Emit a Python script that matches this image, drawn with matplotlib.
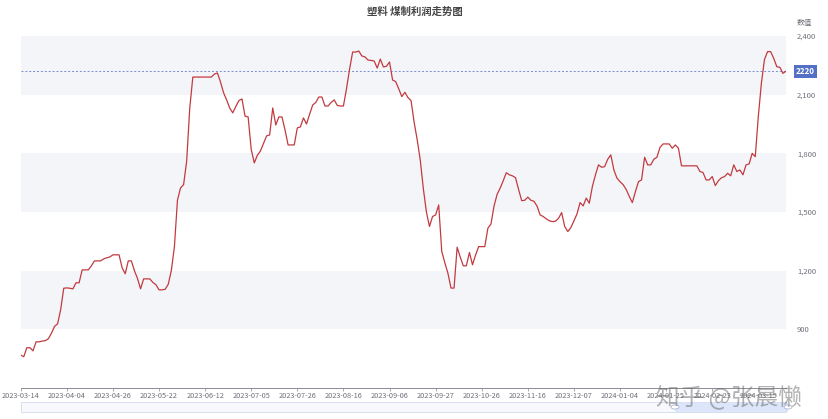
import matplotlib
matplotlib.use("Agg")
import matplotlib.pyplot as plt
from matplotlib.patches import Rectangle, Circle

plt.rcParams['font.family'] = ['Noto Sans CJK SC', 'DejaVu Sans']

title = "塑料 煤制利润走势图"
y_name = "数值"
tick_labels = ["2023-03-14", "2023-04-04", "2023-04-26", "2023-05-22", "2023-06-12",
               "2023-07-05", "2023-07-26", "2023-08-16", "2023-09-06", "2023-09-27",
               "2023-10-26", "2023-11-16", "2023-12-07", "2024-01-04", "2024-01-25",
               "2024-02-23", "2024-03-15"]
tick_step = 15
y_ticks = [900, 1200, 1500, 1800, 2100, 2400]
mark_value = 2220

values = [
    768, 760, 806, 806, 790, 836, 836, 840, 842, 852,
    880, 915, 928, 1000, 1110, 1112, 1110, 1107, 1138, 1138,
    1204, 1204, 1204, 1225, 1250, 1250, 1250, 1260, 1266, 1270,
    1281, 1281, 1281, 1215, 1184, 1250, 1250, 1200, 1160, 1107,
    1158, 1158, 1158, 1140, 1128, 1102, 1102, 1105, 1130, 1200,
    1320, 1560, 1623, 1640, 1760, 2030, 2190, 2190, 2190, 2190,
    2190, 2190, 2190, 2205, 2211, 2165, 2110, 2073, 2032, 2007,
    2040, 2070, 2078, 1990, 1986, 1820, 1751, 1790, 1812, 1850,
    1889, 1894, 2032, 1945, 1986, 1986, 1920, 1843, 1843, 1843,
    1930, 1935, 1981, 1950, 2000, 2047, 2060, 2088, 2088, 2042,
    2042, 2060, 2073, 2045, 2042, 2042, 2130, 2230, 2318, 2318,
    2323, 2298, 2293, 2277, 2275, 2272, 2236, 2282, 2242, 2245,
    2267, 2175, 2167, 2130, 2090, 2112, 2085, 2070, 1960, 1870,
    1766, 1620, 1500, 1426, 1477, 1485, 1536, 1298, 1240, 1187,
    1111, 1111, 1320, 1270, 1225, 1225, 1293, 1230, 1280, 1323,
    1323, 1323, 1417, 1438, 1530, 1590, 1622, 1660, 1701, 1690,
    1685, 1675, 1615, 1558, 1560, 1576, 1560, 1555, 1530, 1485,
    1477, 1465, 1455, 1451, 1453, 1468, 1497, 1426, 1400, 1420,
    1455, 1490, 1548, 1531, 1571, 1545, 1630, 1690, 1741, 1729,
    1732, 1770, 1792, 1715, 1673, 1655, 1640, 1615, 1580, 1548,
    1604, 1655, 1664, 1780, 1741, 1741, 1770, 1780, 1830, 1848,
    1848, 1848, 1826, 1843, 1826, 1736, 1736, 1736, 1736, 1736,
    1736, 1707, 1702, 1664, 1664, 1681, 1635, 1660, 1675, 1681,
    1698, 1685, 1741, 1707, 1715, 1690, 1741, 1746, 1800, 1783,
    1990, 2160, 2280, 2320, 2320, 2286, 2243, 2240, 2209, 2220,
]

W, H = 829, 419
fig = plt.figure(figsize=(W / 100, H / 100), dpi=100)
fig.patch.set_facecolor('white')

x0, x1 = 20.7, 786.0
ytop, ybot = 36.0, 388.0
ax = fig.add_axes([x0 / W, 1 - ybot / H, (x1 - x0) / W, (ybot - ytop) / H])
ax.set_facecolor('white')
n = len(values)
xs = list(range(n))
ax.set_xlim(0, n - 1)
ax.set_ylim(600, 2400)

# alternating split areas
for lo in (900, 1500, 2100):
    ax.axhspan(lo, lo + 300, color='#f4f5f9', zorder=0, lw=0)

ax.plot(xs, values, color='#c23a3f', lw=0.9, zorder=3)
ax.axhline(mark_value, color='#7b8bd0', lw=0.7, ls=(0, (2, 2)), zorder=2)

for s in ('top', 'right', 'left'):
    ax.spines[s].set_visible(False)
ax.spines['bottom'].set_color('#8a8c94')
ax.spines['bottom'].set_linewidth(0.7)

ax.set_xticks([i * tick_step for i in range(len(tick_labels))])
ax.set_xticklabels(tick_labels, fontsize=5.3, color='#6e7079')
ax.tick_params(axis='x', length=2, width=0.5, color='#8a8c94', pad=1)

ax.yaxis.tick_right()
ax.set_yticks(y_ticks)
ax.set_yticklabels([f"{v:,}" for v in y_ticks], fontsize=5.5, color='#6e7079')
ax.tick_params(axis='y', length=0, pad=8)

# y axis name
fig.text(797 / W, 1 - 23 / H, y_name, fontsize=5.5, color='#6e7079', ha='left', va='center')

# mark label
ax.annotate(str(mark_value), xy=(1, mark_value), xycoords=('axes fraction', 'data'),
            xytext=(7, 0), textcoords='offset points', ha='left', va='center',
            fontsize=5.8, color='white', fontweight='bold',
            bbox=dict(boxstyle='square,pad=0.25', fc='#5470c6', ec='none'))

# title
fig.text(415 / W, 1 - 12 / H, title, fontsize=7.5, fontweight='bold', color='#464646',
         ha='center', va='center')

# data zoom slider
sy0, sy1 = 402, 412
fig.patches.append(Rectangle((x0 / W, 1 - sy1 / H), (x1 - x0) / W, (sy1 - sy0) / H,
                             transform=fig.transFigure, fc='#f7f9fd', ec='#d2dbee', lw=0.6))
fig.patches.append(Rectangle((675 / W, 1 - sy1 / H), (788 - 675) / W, (sy1 - sy0) / H,
                             transform=fig.transFigure, fc='#d6e1f8', ec='none', alpha=0.8))
for hx in (675, 788):
    fig.patches.append(Circle((hx / W, 1 - 407 / H), 4 / W, transform=fig.transFigure,
                              fc='white', ec='#aab6d6', lw=0.6))

# watermark
fig.text(802 / W, 1 - 397 / H, "知乎 @张晨懒", fontsize=17, color='#666666', alpha=0.5,
         ha='right', va='center')

fig.savefig('out.png', dpi=100, facecolor='white')
